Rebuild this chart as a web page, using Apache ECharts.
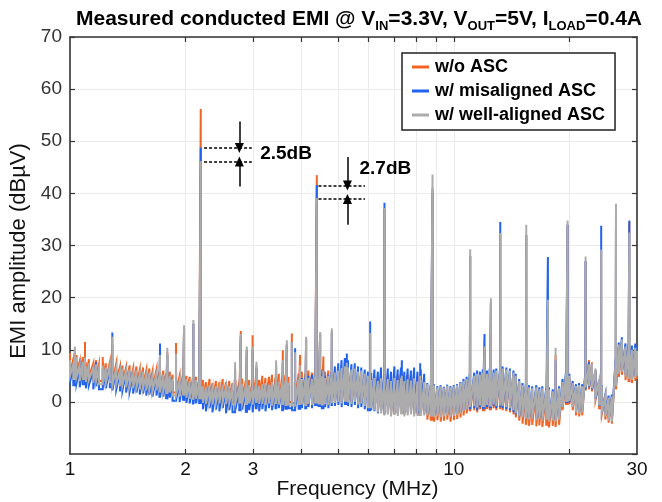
<!DOCTYPE html>
<html>
<head>
<meta charset="utf-8">
<script src="https://cdn.jsdelivr.net/npm/echarts@6/dist/echarts.min.js"></script>
<style>
  html, body { margin: 0; padding: 0; background: #fff; }
  #chart { width: 662px; height: 502px; }
</style>
</head>
<body>
<div id="chart"></div>
<script>
// noise floor: upper / lower edge of each trace on one frequency grid (MHz)
var freqMHz = [
  1.00, 1.02, 1.04, 1.06, 1.08, 1.10, 1.12, 1.15, 1.17, 1.19, 1.22, 1.24, 1.27, 1.29, 1.32, 1.35, 1.37, 1.40,
  1.43, 1.46, 1.49, 1.52, 1.55, 1.58, 1.61, 1.64, 1.68, 1.71, 1.75, 1.78, 1.82, 1.85, 1.89, 1.93, 1.97,
  2.01, 2.05, 2.09, 2.13, 2.17,
  2.22, 2.26, 2.31, 2.35, 2.40, 2.45, 2.50, 2.55, 2.60, 2.65, 2.70, 2.76, 2.81, 2.87, 2.93, 2.99, 3.05, 3.11,
  3.17, 3.23, 3.30, 3.36, 3.43, 3.50, 3.57, 3.64, 3.71, 3.79, 3.86, 3.94,
  4.02, 4.10, 4.18, 4.27, 4.35, 4.44, 4.53, 4.62, 4.71, 4.80,
  4.90, 5.00, 5.10, 5.20, 5.30, 5.41, 5.52, 5.63, 5.74, 5.86, 5.97,
  6.09, 6.21, 6.34, 6.46, 6.59, 6.73, 6.86, 7.00, 7.14, 7.28, 7.43, 7.58, 7.73, 7.88, 8.04, 8.20, 8.37,
  8.53, 8.70, 8.88, 9.06, 9.24, 9.42, 9.61, 9.80, 10.0, 10.2, 10.4, 10.6, 10.8,
  11.0, 11.3, 11.5, 11.7, 11.9, 12.2, 12.4, 12.7, 12.9, 13.2,
  13.4, 13.7, 14.0, 14.3, 14.5, 14.8,
  15.1, 15.4, 15.7, 16.0, 16.4, 16.7, 17.0, 17.4, 17.7, 18.1, 18.4, 18.8,
  19.2, 19.6, 20.0, 20.4, 20.8, 21.2, 21.6,
  22.0, 22.5, 22.9, 23.4, 23.9, 24.3, 24.8, 25.3, 25.8, 26.4, 26.9, 27.4, 28.0, 28.5, 29.1, 29.7, 30.0
];

var woAscHi = [
  9.4, 8.2, 9.0, 7.8, 8.6, 7.6, 8.2, 7.4, 8.0, 7.2, 7.6, 7.4, 7.6, 7.0, 7.4, 6.8, 7.0, 6.6,
  7.0, 6.4, 6.8, 6.2, 6.6, 6.0, 6.4, 5.8, 6.2, 5.8, 6.0, 5.4, 5.8, 5.2, 5.6, 5.0, 5.4,
  5.0, 4.8, 4.6, 4.8, 4.4,
  4.2, 3.8, 4.4, 3.6, 4.0, 3.8, 4.4, 3.8, 4.0, 3.6, 4.2, 3.8, 4.5, 4.0, 4.2, 3.8, 4.6, 4.2,
  5.0, 4.6, 4.8, 5.2, 4.6, 5.4, 4.8, 5.2, 4.8, 5.4, 5.0, 5.4,
  5.8, 5.4, 6.0, 5.6, 6.2, 5.6, 6.2, 5.8, 6.0, 5.8,
  5.6, 5.4, 5.8, 5.6, 5.4, 5.2, 5.6, 5.0, 5.2, 4.8, 4.6,
  4.6, 5.0, 4.8, 5.4, 5.0, 5.2, 4.8, 5.0, 5.2, 5.5, 5.0, 5.2, 4.8, 5.6, 5.0, 5.4, 4.6,
  2.6, 2.4, 2.6, 2.2, 2.4, 2.2, 2.6, 2.2, 2.4, 2.6, 3.0, 3.4, 3.8,
  4.4, 4.6, 5.0, 4.8, 5.2, 5.0, 5.4, 5.2, 5.4, 5.6,
  5.8, 5.6, 5.4, 5.0, 4.6, 3.6,
  2.6, 2.4, 2.2, 2.0, 2.2, 1.8, 2.0, 1.6, 1.8, 1.4, 1.6, 2.0,
  3.2, 5.0, 4.6, 3.2, 2.6, 2.8, 2.6,
  5.6, 8.0, 7.6, 6.0, 3.6, 2.6, 0.8, 0.4, 0.6, 7.6, 10.6, 11.4, 10.0, 9.8, 9.6, 10.0, 9.4
];
var woAscLo = [
  5.6, 4.8, 5.4, 4.6, 5.0, 4.4, 4.8, 4.2, 4.6, 4.0, 4.4, 4.2, 4.4, 3.8, 4.0, 3.6, 3.8, 3.4,
  3.6, 3.2, 3.4, 3.0, 3.2, 2.8, 3.0, 2.6, 2.8, 2.4, 2.6, 2.0, 2.4, 1.8, 2.0, 1.6, 1.8,
  1.4, 1.2, 1.0, 1.2, 1.0,
  0.4, 0.2, 0.5, 0.0, 0.4, 0.2, 0.6, 0.2, 0.4, 0.0, 0.5, 0.2, 0.4, 0.0, 0.3, 0.1, 0.4, 0.2,
  0.2, 0.0, 0.4, -0.2, 0.2, 0.0, -0.2, -0.4, 0.0, -0.2, 0.2, 0.0,
  0.0, -0.3, 0.2, -0.2, 0.2, 0.0, -0.3, 0.1, -0.2, 0.2,
  0.2, 0.4, 0.0, 0.6, 0.2, 0.0, 0.4, -0.2, 0.0, -0.4, -0.6,
  -0.8, -1.2, -1.6, -1.8, -2.2, -2.0, -2.4, -2.0, -2.2, -2.0, -2.4, -2.2, -2.0, -2.4, -2.2, -2.4, -2.4,
  -3.4, -3.6, -3.8, -3.5, -3.8, -3.6, -3.4, -3.8, -3.5, -3.3, -3.0, -2.6, -2.2,
  -1.8, -1.6, -2.0, -1.4, -1.8, -1.4, -1.6, -1.2, -1.6, -1.4,
  -1.6, -1.8, -2.0, -2.4, -3.0, -3.6,
  -4.2, -4.4, -4.6, -4.4, -4.7, -4.5, -4.8, -4.6, -4.9, -4.6, -4.8, -4.4,
  -1.6, -0.6, -0.4, -1.6, -2.6, -2.8, -2.6,
  2.2, 2.4, 2.0, 0.4, -1.2, -2.4, -3.4, -4.0, -4.2, 2.4, 4.8, 5.2, 4.2, 3.8, 3.6, 4.0, 4.4
];

var misalignedHi = [
  7.6, 6.8, 7.8, 6.6, 7.0, 6.4, 7.0, 6.0, 7.6, 6.0, 6.4, 6.2, 6.6, 5.8, 6.2, 5.6, 6.0, 5.6,
  5.8, 5.2, 5.6, 5.0, 5.4, 4.8, 5.2, 4.6, 5.0, 4.6, 5.0, 4.2, 4.6, 4.0, 4.4, 3.8, 4.2,
  4.0, 3.6, 3.4, 3.8, 3.2,
  2.6, 2.4, 2.8, 2.2, 2.6, 2.4, 2.9, 2.5, 2.6, 2.3, 2.8, 2.4, 3.0, 2.6, 2.8, 2.5, 3.0, 2.7,
  3.0, 3.2, 2.9, 3.4, 3.1, 3.5, 3.2, 3.6, 3.3, 3.7, 3.4, 3.8,
  4.6, 4.8, 5.0, 5.2, 5.0, 4.8, 5.4, 5.0, 5.2, 5.6,
  6.8, 7.4, 8.0, 8.4, 8.0, 7.2, 7.4, 6.8, 6.6, 6.2, 5.8,
  5.6, 6.2, 5.8, 6.6, 6.0, 6.4, 5.8, 6.8, 6.2, 6.6, 5.8, 6.4, 6.0, 6.6, 5.8, 6.2, 5.4,
  3.6, 3.2, 3.4, 3.0, 3.2, 2.9, 3.3, 3.0, 3.2, 3.4, 3.8, 4.4, 4.8,
  5.4, 5.6, 6.0, 5.8, 6.2, 6.0, 6.4, 6.2, 6.4, 6.6,
  6.8, 6.6, 6.4, 6.0, 5.4, 4.4,
  3.6, 3.4, 3.2, 3.0, 3.2, 2.8, 3.0, 2.6, 2.8, 2.4, 2.6, 3.0,
  4.4, 5.8, 5.4, 4.0, 3.4, 3.6, 3.4,
  5.4, 7.6, 7.0, 6.0, 4.2, 3.2, 1.4, 1.2, 1.4, 8.6, 11.4, 12.4, 11.2, 11.0, 10.8, 11.2, 10.6
];
var misalignedLo = [
  3.8, 3.0, 3.6, 2.8, 3.4, 2.6, 3.2, 2.4, 3.0, 2.4, 2.8, 2.6, 2.8, 2.2, 2.4, 2.0, 2.2, 1.8,
  2.0, 1.6, 1.8, 1.4, 1.6, 1.2, 1.4, 1.0, 1.2, 0.8, 1.0, 0.5, 0.8, 0.2, 0.4, 0.0, 0.2,
  -0.2, -0.3, -0.5, -0.3, -0.4,
  -1.4, -1.8, -1.2, -2.0, -1.5, -1.8, -1.2, -2.2, -1.6, -2.0, -1.4, -1.8, -1.5, -2.1, -1.6, -2.0, -1.4, -1.8,
  -1.4, -1.8, -1.2, -1.6, -1.4, -1.2, -1.8, -1.5, -1.2, -1.6, -1.3, -1.5,
  -1.2, -1.4, -1.0, -1.2, -0.8, -1.0, -1.4, -1.0, -1.2, -0.8,
  -0.8, -0.6, -1.0, -0.4, -0.8, -1.0, -0.6, -1.2, -1.0, -1.4, -1.6,
  -1.6, -1.8, -2.2, -2.0, -2.4, -2.2, -2.0, -2.4, -2.2, -1.8, -2.2, -2.0, -1.8, -2.2, -2.0, -2.2, -2.0,
  -2.2, -2.4, -2.6, -2.2, -2.6, -2.4, -2.2, -2.5, -2.3, -2.2, -2.0, -1.6, -1.4,
  -1.4, -1.2, -1.6, -1.0, -1.4, -1.0, -1.2, -0.8, -1.2, -1.0,
  -1.2, -1.4, -1.6, -2.0, -2.4, -2.8,
  -2.8, -3.0, -3.2, -3.0, -3.2, -3.0, -3.4, -3.2, -3.4, -3.2, -3.4, -3.0,
  -0.8, -0.2, 0.0, -1.0, -1.8, -2.0, -1.8,
  2.4, 2.8, 2.4, 0.6, -0.6, -1.6, -2.4, -3.2, -3.4, 3.2, 5.6, 6.0, 5.2, 4.8, 4.6, 5.0, 5.4
];

var wellAlignedHi = [
  8.0, 7.2, 8.6, 7.0, 7.6, 6.8, 7.4, 6.6, 7.2, 6.4, 6.8, 6.6, 7.0, 6.2, 6.6, 6.0, 6.4, 6.0,
  6.2, 5.6, 6.0, 5.4, 5.8, 5.2, 5.6, 5.0, 5.4, 5.0, 5.2, 4.6, 5.0, 4.4, 4.8, 4.2, 4.6,
  4.4, 4.0, 3.8, 4.2, 3.6,
  3.0, 2.8, 3.2, 2.6, 3.0, 2.8, 3.3, 2.9, 3.0, 2.7, 3.2, 2.8, 3.4, 3.0, 3.2, 2.9, 3.4, 3.1,
  3.4, 3.6, 3.3, 3.8, 3.5, 3.9, 3.6, 4.0, 3.7, 4.1, 3.8, 4.2,
  4.4, 4.2, 4.6, 4.4, 4.8, 4.5, 4.9, 4.6, 5.0, 5.2,
  5.6, 6.0, 6.5, 6.8, 6.6, 6.2, 6.4, 5.8, 6.0, 5.4, 5.0,
  4.2, 4.6, 4.0, 4.5, 4.2, 4.4, 4.0, 4.6, 4.2, 4.5, 4.0, 4.3, 4.1, 4.5, 3.9, 4.2, 3.8,
  3.4, 3.0, 3.2, 2.8, 3.0, 2.7, 3.1, 2.8, 3.0, 3.2, 3.6, 4.0, 4.4,
  4.8, 5.0, 5.4, 5.2, 5.6, 5.4, 5.8, 5.6, 6.0, 6.2,
  6.4, 6.2, 6.0, 5.6, 5.0, 4.0,
  3.2, 3.0, 2.8, 2.6, 2.8, 2.4, 2.6, 2.2, 2.4, 2.0, 2.2, 2.6,
  3.8, 5.4, 5.0, 3.6, 3.0, 3.2, 3.0,
  5.0, 7.2, 7.4, 6.4, 4.0, 3.0, 1.2, 0.8, 1.0, 8.0, 11.0, 12.0, 10.6, 10.2, 10.0, 10.4, 9.8
];
var wellAlignedLo = [
  5.0, 4.2, 4.8, 4.0, 4.4, 3.8, 4.2, 3.6, 4.0, 3.4, 3.8, 3.6, 3.8, 3.2, 3.4, 3.0, 3.2, 2.8,
  3.0, 2.6, 2.8, 2.4, 2.6, 2.2, 2.4, 2.0, 2.2, 1.8, 2.0, 1.5, 1.8, 1.2, 1.4, 1.0, 1.2,
  0.8, 0.6, 0.4, 0.6, 0.5,
  -0.2, -0.4, -0.1, -0.5, -0.2, -0.3, 0.0, -0.4, -0.2, -0.5, -0.1, -0.3, -0.2, -0.6, -0.3, -0.5, -0.2, -0.4,
  -0.4, -0.6, -0.3, -0.7, -0.4, -0.5, -0.6, -0.8, -0.5, -0.7, -0.4, -0.6,
  -0.5, -0.8, -0.4, -0.6, -0.3, -0.5, -0.7, -0.4, -0.6, -0.3,
  -0.2, 0.0, -0.3, 0.2, -0.1, -0.4, 0.0, -0.5, -0.3, -0.8, -1.0,
  -1.2, -1.6, -2.0, -2.2, -2.6, -2.4, -2.8, -2.5, -2.7, -2.4, -2.8, -2.6, -2.4, -2.8, -2.5, -2.7, -2.6,
  -2.6, -2.8, -2.9, -2.7, -3.0, -2.8, -2.6, -2.9, -2.7, -2.5, -2.2, -1.8, -1.4,
  -1.0, -0.8, -1.1, -0.7, -1.0, -0.6, -0.9, -0.5, -0.8, -0.7,
  -0.8, -1.0, -1.2, -1.6, -2.2, -2.8,
  -3.0, -3.2, -3.4, -3.2, -3.5, -3.3, -3.6, -3.4, -3.8, -3.6, -3.8, -3.4,
  -1.0, 0.0, 0.2, -1.0, -2.0, -2.2, -2.0,
  2.8, 3.0, 2.6, 1.0, -0.5, -1.8, -2.8, -3.6, -3.8, 3.0, 5.4, 5.8, 4.8, 4.4, 4.2, 4.6, 5.0
];

// narrow spikes (switching harmonics and others)
var spikeMHz = [
  1.03, 1.094, 1.217, 1.289, 1.716, 1.793, 1.889, 1.982, 2.096, 2.191,
  2.692, 2.786, 2.888, 2.99, 3.06, 3.443, 3.585, 3.672, 3.784, 3.859, 3.975,
  4.122, 4.395, 4.484, 4.573, 4.81, 5.263, 6.053, 6.596, 7.321, 8.171, 8.80,
  11.03, 12.02, 12.49, 13.21, 15.44, 17.58, 18.41, 19.78, 22.04, 24.2, 26.45, 28.65
];
var spikeWoAsc = [
  9.5, 11.5, 8.6, 11.0, 9.0, 9.5, 11.3, 14.0, 15.0, 56.2,
  6.5, 13.6, 10.0, 12.8, 7.0, 7.0, 9.9, 11.0, 13.1, 8.0, 9.0,
  12.0, 43.5, 13.0, 8.7, 13.5, 7.0, 13.0, 37.0, 5.5, 5.5, 40.0,
  28.0, 10.0, 19.0, 32.0, 32.0, 19.0, 9.0, 34.0, 27.0, 29.0, 37.0, 34.5
];
var spikeMisaligned = [
  9.0, 8.0, 6.5, 13.3, 11.2, 9.0, 8.5, 14.0, 15.0, 48.8,
  6.0, 12.5, 10.0, 10.0, 6.5, 7.2, 7.5, 11.0, 11.5, 10.3, 6.0,
  12.0, 41.6, 13.0, 6.0, 13.5, 9.3, 15.4, 38.2, 8.0, 7.4, 41.0,
  28.0, 13.0, 19.0, 34.5, 32.0, 27.8, 8.0, 34.0, 27.0, 33.8, 37.0, 34.8
];
var spikeWellAligned = [
  10.6, 8.5, 7.0, 12.5, 9.0, 10.4, 9.3, 14.7, 15.7, 46.2,
  7.6, 13.0, 10.6, 10.6, 7.7, 8.0, 8.0, 11.8, 11.5, 9.5, 7.0,
  12.5, 39.1, 13.4, 6.0, 14.1, 7.5, 13.2, 37.2, 5.0, 5.0, 43.6,
  29.3, 10.6, 19.9, 32.4, 34.0, 19.6, 10.4, 34.8, 27.9, 29.2, 38.0, 32.5
];

var seriesNames = ['w/o ASC', 'w/ misaligned ASC', 'w/ well-aligned ASC'];
var seriesColors = ['#f26424', '#2163ec', '#acacac'];

var xLabelValues = [1, 2, 3, 10, 30];
var xTickValues = [2, 3, 4, 5, 6, 7, 8, 9, 10, 20];

// 2.5dB / 2.7dB gap annotations
var gapFreqFrom = [2.235, 4.44];
var gapFreqTo = [2.976, 5.87];
var gapUpper = [48.7, 41.5];
var gapLower = [46.1, 38.9];
var gapArrowFreq = [2.762, 5.282];
var gapArrowTop = [53.8, 47.0];
var gapArrowBottom = [41.3, 34.0];
var gapText = ['2.5dB', '2.7dB'];
var gapTextAt = [[3.12, 47.6], [5.66, 44.8]];

var FONT = 'Liberation Sans';

// walk the grid as a dense up/down trace, spikes drawn as vertical strokes
function buildTrace(hi, lo, spikes) {
  var pts = [];
  for (var i = 0; i < freqMHz.length; i++) {
    pts.push([freqMHz[i], hi[i]]);
    pts.push([freqMHz[i], lo[i]]);
    var next = i + 1 < freqMHz.length ? freqMHz[i + 1] : Infinity;
    for (var j = 0; j < spikeMHz.length; j++) {
      if (spikeMHz[j] >= freqMHz[i] && spikeMHz[j] < next) {
        pts.push([spikeMHz[j], lo[i]]);
        pts.push([spikeMHz[j], spikes[j]]);
        pts.push([spikeMHz[j], lo[i]]);
      }
    }
  }
  return pts;
}

function gapMarkLines() {
  var lines = [];
  for (var k = 0; k < gapText.length; k++) {
    var dash = { type: [3, 2], width: 1.5, color: '#000' };
    lines.push([{ coord: [gapFreqFrom[k], gapUpper[k]], symbol: 'none', lineStyle: dash },
                { coord: [gapFreqTo[k], gapUpper[k]], symbol: 'none' }]);
    lines.push([{ coord: [gapFreqFrom[k], gapLower[k]], symbol: 'none', lineStyle: dash },
                { coord: [gapFreqTo[k], gapLower[k]], symbol: 'none' }]);
    var solid = { type: 'solid', width: 1.5, color: '#000' };
    lines.push([{ coord: [gapArrowFreq[k], gapArrowTop[k]], symbol: 'none', lineStyle: solid },
                { coord: [gapArrowFreq[k], gapUpper[k]], symbol: 'triangle', symbolSize: [9, 10] }]);
    lines.push([{ coord: [gapArrowFreq[k], gapArrowBottom[k]], symbol: 'none', lineStyle: solid },
                { coord: [gapArrowFreq[k], gapLower[k]], symbol: 'triangle', symbolSize: [9, 10] }]);
  }
  return lines;
}

var traces = [
  buildTrace(woAscHi, woAscLo, spikeWoAsc),
  buildTrace(misalignedHi, misalignedLo, spikeMisaligned),
  buildTrace(wellAlignedHi, wellAlignedLo, spikeWellAligned)
];

var series = [];
for (var s = 0; s < 3; s++) {
  series.push({
    name: seriesNames[s],
    type: 'line',
    data: traces[s],
    showSymbol: false,
    symbol: 'none',
    color: seriesColors[s],
    lineStyle: { width: 2, color: seriesColors[s], join: 'miter' },
    z: 2 + s,
    silent: true
  });
}

var notes = [];
for (var n = 0; n < gapText.length; n++) {
  notes.push([gapTextAt[n][0], gapTextAt[n][1], gapText[n]]);
}
series.push({
  name: 'notes',
  type: 'scatter',
  data: notes,
  symbol: 'circle',
  symbolSize: 1,
  itemStyle: { color: 'rgba(0,0,0,0)' },
  z: 10,
  silent: true,
  label: {
    show: true,
    position: 'right',
    distance: 0,
    formatter: function (p) { return p.data[2]; },
    fontFamily: FONT,
    fontWeight: 'bold',
    fontSize: 19,
    color: '#000',
    opacity: 1,
    textBorderWidth: 0
  },
  markLine: {
    silent: true,
    animation: false,
    label: { show: false },
    emphasis: { disabled: true },
    data: gapMarkLines()
  }
});

var axisLineStyle = { show: true, onZero: false, lineStyle: { color: '#333', width: 1.6 } };

var option = {
  animation: false,
  backgroundColor: '#fff',
  title: {
    text: '{b|Measured conducted EMI @ V}{s|IN}{b|=3.3V, V}{s|OUT}{b|=5V, I}{s|LOAD}{b|=0.4A}',
    left: 354,
    textAlign: 'center',
    top: 0,
    textStyle: {
      rich: {
        b: { fontFamily: FONT, fontWeight: 'bold', fontSize: 21, color: '#000', lineHeight: 28 },
        s: { fontFamily: FONT, fontWeight: 'bold', fontSize: 13, color: '#000', lineHeight: 26, verticalAlign: 'bottom' }
      }
    }
  },
  legend: {
    data: seriesNames,
    orient: 'vertical',
    left: 402,
    top: 53,
    padding: [5, 10, 6, 10],
    itemGap: 6,
    itemWidth: 17,
    itemHeight: 3,
    icon: 'rect',
    borderColor: '#222',
    borderWidth: 1.5,
    backgroundColor: '#fff',
    z: 20,
    textStyle: { fontFamily: FONT, fontWeight: 'bold', fontSize: 18, color: '#000', padding: [0, 0, 0, 1] }
  },
  grid: { left: 70, right: 25, top: 37, bottom: 48, containLabel: false, outerBoundsMode: 'none' },
  xAxis: [{
    type: 'log',
    logBase: 10,
    min: 1,
    max: 30,
    name: 'Frequency (MHz)',
    nameLocation: 'middle',
    nameGap: 25,
    nameMoveOverlap: false,
    nameTextStyle: { fontFamily: FONT, fontSize: 21, color: '#111', padding: [0, 0, 0, 8] },
    axisLine: axisLineStyle,
    axisTick: { show: true, inside: true, length: 5, customValues: xTickValues, lineStyle: { color: '#333', width: 1.2 } },
    axisLabel: { customValues: xLabelValues, fontFamily: FONT, fontSize: 19, color: '#111', margin: 6 },
    splitLine: { show: true, lineStyle: { color: '#ebebeb', width: 1 } },
    minorTick: { show: false },
    minorSplitLine: { show: false }
  }, {
    type: 'log',
    logBase: 10,
    min: 1,
    max: 30,
    position: 'top',
    axisLine: axisLineStyle,
    axisTick: { show: true, inside: true, length: 5, customValues: xTickValues, lineStyle: { color: '#333', width: 1.2 } },
    axisLabel: { show: false },
    splitLine: { show: false }
  }],
  yAxis: [{
    type: 'value',
    min: -10,
    max: 70,
    interval: 10,
    name: 'EMI amplitude (dBµV)',
    nameLocation: 'middle',
    nameGap: 28,
    nameTextStyle: { fontFamily: FONT, fontSize: 22, color: '#111', padding: [0, 11, 0, 0] },
    axisLine: axisLineStyle,
    axisTick: { show: true, inside: true, length: 5, lineStyle: { color: '#333', width: 1.2 } },
    axisLabel: { showMinLabel: false, fontFamily: FONT, fontSize: 19, color: '#333', margin: 8 },
    splitLine: { show: true, lineStyle: { color: '#ebebeb', width: 1 } }
  }, {
    type: 'value',
    min: -10,
    max: 70,
    interval: 10,
    position: 'right',
    axisLine: axisLineStyle,
    axisTick: { show: true, inside: true, length: 5, lineStyle: { color: '#333', width: 1.2 } },
    axisLabel: { show: false },
    splitLine: { show: false }
  }],
  series: series
};

var chart = echarts.init(document.getElementById('chart'), null, { renderer: 'canvas' });
chart.setOption(option);
</script>
</body>
</html>
